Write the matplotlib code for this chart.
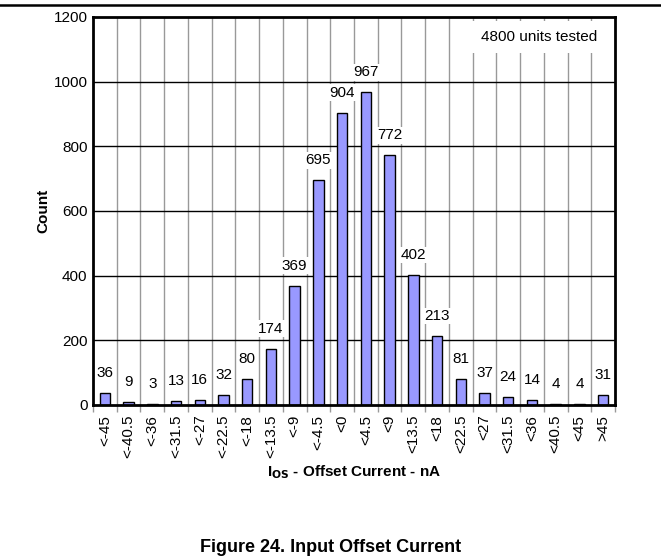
import matplotlib.pyplot as plt
import numpy as np
from matplotlib.lines import Line2D

plt.rcParams['font.family'] = ['Liberation Sans', 'DejaVu Sans']

labels = ['<-45', '<-40.5', '<-36', '<-31.5', '<-27', '<-22.5', '<-18', '<-13.5',
          '<-9', '<-4.5', '<0', '<4.5', '<9', '<13.5', '<18', '<22.5', '<27',
          '<31.5', '<36', '<40.5', '<45', '>45']
counts = [36, 9, 3, 13, 16, 32, 80, 174, 369, 695, 904, 967, 772, 402, 213, 81,
          37, 24, 14, 4, 4, 31]

fig = plt.figure(figsize=(6.61, 5.6), dpi=100)
ax = fig.add_axes([93 / 661, 1 - 405 / 560, 522 / 661, 388 / 560])

x = np.arange(len(counts))
ax.bar(x, counts, width=0.44, color='#9999ff', edgecolor='black',
       linewidth=1, zorder=3)
for xi, c in zip(x, counts):
    ax.text(xi, c + 62, str(c), ha='center', va='center', fontsize=11, zorder=4,
            bbox=dict(facecolor='white', edgecolor='none', pad=1))

ax.set_xlim(-0.5, len(counts) - 0.5)
ax.set_ylim(0, 1200)
ax.set_yticks(range(0, 1201, 200))
ax.set_xticks(x)
ax.set_xticklabels(labels, rotation=90, fontsize=11)
ax.tick_params(axis='x', length=0, pad=7)
ax.tick_params(axis='y', length=0, labelsize=11, pad=4)
ax.set_xticks(np.arange(-0.5, len(counts)), minor=True)
ax.tick_params(axis='x', which='minor', length=5, color='#999999', width=1)

for b in np.arange(0.5, len(counts) - 1):
    ax.axvline(b, color='#999999', linewidth=1, zorder=1)
for yv in range(200, 1200, 200):
    ax.axhline(yv, color='black', linewidth=1, zorder=1)

for s in ax.spines.values():
    s.set_linewidth(2)
    s.set_zorder(6)

ax.text(0.855, 0.948, '4800 units tested', transform=ax.transAxes, ha='center',
        va='center', fontsize=11, zorder=5,
        bbox=dict(boxstyle='square,pad=0.6', facecolor='white', edgecolor='none'))

ax.set_ylabel('Count', fontsize=11, fontweight='bold', labelpad=2)
ax.set_xlabel(r'I$_{\mathbf{OS}}$ - Offset Current - nA', fontsize=11,
              fontweight='bold', labelpad=4)

fig.add_artist(Line2D([0, 1], [1 - 5 / 560, 1 - 5 / 560], color='black',
                      linewidth=1.8))
fig.text(0.5, 1 - 547 / 560, 'Figure 24. Input Offset Current', ha='center',
         va='center', fontsize=13, fontweight='bold')

fig.savefig('out.png', dpi=100)
